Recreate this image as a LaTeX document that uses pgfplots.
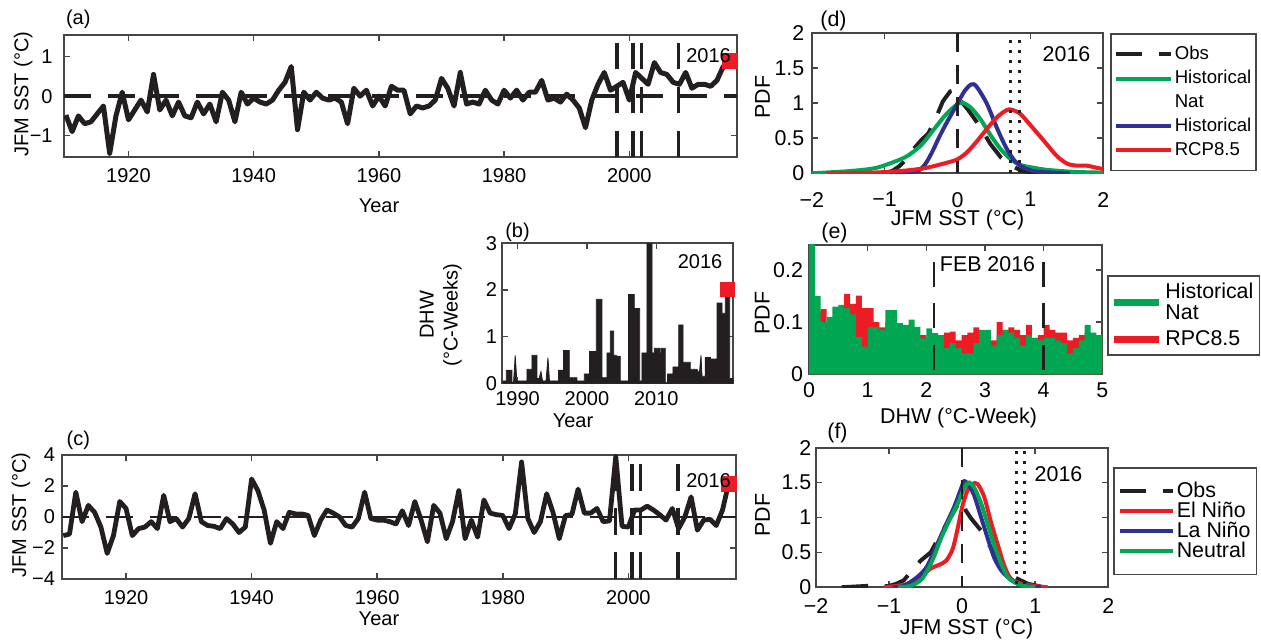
\documentclass[border=0pt]{standalone}
\usepackage{fontspec}
\setmainfont{Liberation Sans}
\usepackage{pgfplots}
\pgfplotsset{compat=1.18}

\definecolor{sred}{RGB}{237,28,36}
\definecolor{sgreen}{RGB}{0,166,81}
\definecolor{sblue}{RGB}{46,49,146}
\definecolor{sblack}{RGB}{35,31,32}
\definecolor{frame}{RGB}{70,70,72}

\pgfplotsset{
  panel/.style={
    scale only axis, anchor=south west,
    tick align=inside, tick pos=both, major tick length=3pt,
    axis line style={draw=frame, line width=0.9pt},
    tick style={frame, line width=0.8pt},
    tick label style={inner sep=0pt},
    /pgf/number format/assume math mode=true,
    /pgf/number format/1000 sep={},
    xlabel style={anchor=center, inner sep=0pt}, ylabel style={anchor=center, inner sep=0pt},
    legend cell align=left,
  },
  leftfont/.style={font=\fontsize{10}{12}\selectfont},
  rightfont/.style={font=\fontsize{10.7}{12.5}\selectfont},
  evline/.style={sblack, line width=1.7pt, dash pattern=on 13.3pt off 8.7pt},
  dotline/.style={sblack, line width=1.35pt, dash pattern=on 1.35pt off 3.65pt},
  zline/.style={sblack, line width=1.3pt, dash pattern=on 9.5pt off 6.5pt},
}

% JFM SST anomaly, panel (a)
\pgfplotstableread{
year sst
1910 -0.48
1911 -0.9
1912 -0.5
1913 -0.7
1914 -0.65
1915 -0.45
1916 -0.25
1917 -1.45
1918 -0.5
1919 0.1
1920 -0.6
1921 -0.35
1922 -0.1
1923 -0.4
1924 0.55
1925 -0.35
1926 -0.1
1927 -0.5
1928 -0.15
1929 -0.5
1930 -0.55
1931 -0.15
1932 -0.45
1933 -0.2
1934 -0.65
1935 0.1
1936 -0.1
1937 -0.65
1938 0.1
1939 -0.2
1940 -0.05
1941 -0.15
1942 -0.2
1943 -0.1
1944 0.15
1945 0.35
1946 0.75
1947 -0.85
1948 0.1
1949 -0.1
1950 0.1
1951 -0.05
1952 -0.1
1953 -0.05
1954 -0.15
1955 -0.7
1956 0.2
1957 0
1958 0.15
1959 -0.25
1960 0
1961 -0.25
1962 0.25
1963 0.15
1964 0.15
1965 -0.45
1966 -0.25
1967 -0.3
1968 -0.25
1969 -0.1
1970 0.45
1971 0.2
1972 -0.25
1973 0.6
1974 -0.2
1975 -0.15
1976 -0.2
1977 0.15
1978 -0.1
1979 -0.2
1980 0.15
1981 -0.05
1982 0.15
1983 -0.1
1984 0.1
1985 0.1
1986 0.4
1987 -0.1
1988 -0.05
1989 -0.15
1990 0.05
1991 -0.1
1992 -0.3
1993 -0.8
1994 -0.1
1995 0.3
1996 0.6
1997 0.15
1998 0.25
1999 0.35
2000 -0.1
2001 0.6
2002 0.45
2003 0.3
2004 0.85
2005 0.6
2006 0.55
2007 0.35
2008 0.3
2009 0.6
2010 0.2
2011 0.3
2012 0.3
2013 0.25
2014 0.4
2015 0.75
2016 0.9
}\sstA

% JFM SST, panel (c)
\pgfplotstableread{
year sst
1910 -1.2
1911 -1.1
1912 1.6
1913 -0.3
1914 0.75
1915 0.3
1916 -0.65
1917 -2.35
1918 -1.2
1919 1.0
1920 0.55
1921 -1.2
1922 -0.75
1923 -0.65
1924 -0.3
1925 -0.75
1926 1.4
1927 -0.3
1928 -0.1
1929 -0.65
1930 -0.1
1931 1.5
1932 -0.3
1933 -0.55
1934 -0.6
1935 -0.75
1936 -0.1
1937 -0.45
1938 -1.0
1939 -0.65
1940 2.45
1941 1.7
1942 0.45
1943 -1.7
1944 -0.3
1945 -0.75
1946 0.3
1947 0.2
1948 0.2
1949 0.1
1950 -1.2
1951 -0.2
1952 0.45
1953 0.25
1954 0
1955 -0.55
1956 -0.65
1957 -0.1
1958 1.6
1959 -0.1
1960 -0.2
1961 -0.2
1962 -0.3
1963 -0.45
1964 0.4
1965 -0.55
1966 1.0
1967 -0.2
1968 -1.6
1969 0.75
1970 0.25
1971 -1.4
1972 -0.3
1973 1.7
1974 -1.4
1975 -0.2
1976 -1.3
1977 1.1
1978 0.25
1979 0.15
1980 0.1
1981 -0.75
1982 0.2
1983 3.55
1984 -0.1
1985 -1.0
1986 -0.3
1987 1.5
1988 0.3
1989 -1.4
1990 0.1
1991 0.15
1992 1.8
1993 0.25
1994 0.25
1995 0.55
1996 -0.3
1997 -0.25
1998 3.9
1999 -0.6
2000 -0.65
2001 0.45
2002 0.45
2003 0.7
2004 0.45
2005 0.15
2006 -0.2
2007 0.55
2008 -0.75
2009 0
2010 1.3
2011 -0.85
2012 -0.2
2013 -0.15
2014 -0.55
2015 0.45
2016 2.2
}\sstC

% DHW histograms, panel (e): left bin edge, PDF
\pgfplotstableread{
x nat rcp
0.0 0.27 0.20
0.1 0.15 0.12
0.2 0.10 0.125
0.3 0.11 0.10
0.4 0.13 0.11
0.5 0.133 0.12
0.6 0.127 0.154
0.7 0.115 0.135
0.8 0.072 0.151
0.9 0.053 0.127
1.0 0.09 0.127
1.1 0.09 0.10
1.2 0.085 0.09
1.3 0.123 0.10
1.4 0.123 0.09
1.5 0.098 0.08
1.6 0.095 0.09
1.7 0.105 0.08
1.8 0.091 0.075
1.9 0.069 0.075
2.0 0.088 0.07
2.1 0.079 0.075
2.2 0.075 0.075
2.3 0.05 0.08
2.4 0.06 0.082
2.5 0.05 0.065
2.6 0.04 0.075
2.7 0.04 0.08
2.8 0.06 0.09
2.9 0.085 0.07
3.0 0.085 0.065
3.1 0.055 0.065
3.2 0.075 0.10
3.3 0.085 0.085
3.4 0.08 0.09
3.5 0.07 0.085
3.6 0.055 0.075
3.7 0.075 0.095
3.8 0.07 0.07
3.9 0.065 0.075
4.0 0.07 0.095
4.1 0.07 0.085
4.2 0.065 0.08
4.3 0.06 0.08
4.4 0.04 0.065
4.5 0.05 0.07
4.6 0.065 0.075
4.7 0.095 0.08
4.8 0.08 0.07
4.9 0.075 0.07
5.0 0.075 0.07
}\dhwhist

\begin{document}
\begin{tikzpicture}
\useasboundingbox (0,0) rectangle (630.5pt,321pt);

% ---------------- (a)
\begin{axis}[panel, leftfont, at={(32pt,242.35pt)}, width=336.5pt, height=61.15pt,
  xmin=1909.7, xmax=2017.2, ymin=-1.55, ymax=1.55,
  xtick={1920,1940,1960,1980,2000}, ytick={-1,0,1}, yticklabels={−1,0,1},
  xticklabel style={yshift=-5.5pt}, yticklabel style={xshift=-5.5pt},
  xlabel={Year}, xlabel style={at={(axis description cs:0.468,-0.398)}},
  ylabel={JFM SST (°C)}, ylabel style={at={(axis description cs:-0.0605,0.518)}},
]
\addplot[evline] coordinates {(1909.7,0) (2017.2,0)};
\addplot[evline] coordinates {(1998,-1.55) (1998,1.55)};
\addplot[evline] coordinates {(2000.6,-1.55) (2000.6,1.55)};
\addplot[evline] coordinates {(2001.9,-1.55) (2001.9,1.55)};
\addplot[evline] coordinates {(2007.9,-1.55) (2007.9,1.55)};
\addplot[sblack, line width=2.5pt, line join=round] table[x=year, y=sst] {\sstA};
\addplot[only marks, mark=square*, mark size=3.7pt, sred] coordinates {(2016,0.9)};
\end{axis}

% ---------------- (b)
\begin{axis}[panel, leftfont, at={(251.15pt,129.35pt)}, width=115.5pt, height=70pt,
  xmin=1987.8, xmax=2021.1, ymin=0, ymax=3,
  xtick={1990,2000,2010}, ytick={0,1,2,3},
  xticklabel style={yshift=-4pt}, yticklabel style={xshift=-2.5pt},
  xlabel={Year}, xlabel style={at={(axis description cs:0.306,-0.269)}},
  ylabel={DHW\\(°C-Weeks)}, ylabel style={align=center, at={(axis description cs:-0.266,0.488)}},
]
\addplot[fill=sblack, draw=sblack, line width=0.4pt] coordinates {
(1987.9,0) (1987.9,0.05) (1988.37,0.05) (1988.37,0.28) (1989.18,0.28) (1989.18,0.02)
(1989.42,0.02) (1989.66,0.6) (1989.9,0.05) (1991.35,0.05) (1991.35,0.3) (1992.07,0.3)
(1992.07,0.6) (1992.79,0.6) (1992.79,0.1) (1993.1,0.1) (1993.37,0.25) (1993.6,0.05)
(1994.1,0.05) (1994.38,0.55) (1994.6,0.05) (1995.91,0.05) (1995.91,0.28) (1996.63,0.28)
(1996.63,0.7) (1997.45,0.7) (1997.45,0.12) (1998.56,0.12) (1998.56,0.05) (1999.62,0.05)
(1999.62,0.2) (2000.38,0.2) (2000.38,0.68) (2001.35,0.68) (2001.35,1.8) (2002.16,1.8)
(2002.16,0.12) (2002.88,0.12) (2002.88,0.65) (2003.37,0.65) (2003.37,1.12) (2003.85,1.12)
(2003.85,0.6) (2004.23,0.6) (2004.23,0.58) (2004.81,0.58) (2004.81,0.05) (2006.0,0.05)
(2006.0,1.9) (2006.83,1.9) (2006.83,1.6) (2007.6,1.6) (2007.6,0.05) (2007.93,0.05)
(2007.93,0.65) (2008.65,0.65) (2008.65,3.0) (2009.38,3.0) (2009.38,0.65) (2009.71,0.65)
(2009.71,0.75) (2010.48,0.75) (2010.48,0.65) (2010.67,0.65) (2010.67,0.75) (2011.3,0.75)
(2011.3,0.0) (2011.63,0.0) (2011.63,0.2) (2012.4,0.2) (2012.4,0.35) (2013.22,0.35)
(2013.22,1.25) (2013.85,1.25) (2013.85,0.45) (2014.9,0.45) (2014.9,0.3) (2015.87,0.3)
(2016.2,0.2) (2016.44,0.6) (2016.59,0.15) (2017.07,0.15) (2017.07,0.55) (2017.79,0.55)
(2017.79,0.52) (2018.75,0.52) (2018.75,1.72) (2019.47,1.72) (2019.47,1.5) (2019.95,1.5)
(2019.95,1.9) (2020.58,1.9) (2020.58,0.1) (2021.1,0.1) (2021.1,0)} \closedcycle;
\addplot[only marks, mark=square*, mark size=3.5pt, sred] coordinates {(2020.2,2.02)};
\end{axis}

% ---------------- (c)
\begin{axis}[panel, leftfont, at={(31.15pt,31.5pt)}, width=336.85pt, height=62pt,
  xmin=1909.85, xmax=2017.15, ymin=-4, ymax=4,
  xtick={1920,1940,1960,1980,2000}, ytick={-4,-2,0,2,4}, yticklabels={−4,−2,0,2,4},
  xticklabel style={yshift=-5.5pt}, yticklabel style={xshift=-3.5pt},
  xlabel={Year}, xlabel style={at={(axis description cs:0.470,-0.323)}},
  ylabel={JFM SST (°C)}, ylabel style={at={(axis description cs:-0.0613,0.516)}},
]
\addplot[evline, line width=1.4pt] coordinates {(1909.85,0) (2017.15,0)};
\addplot[evline] coordinates {(1998,-4) (1998,4)};
\addplot[evline] coordinates {(2000.6,-4) (2000.6,4)};
\addplot[evline] coordinates {(2001.9,-4) (2001.9,4)};
\addplot[evline] coordinates {(2007.9,-4) (2007.9,4)};
\addplot[sblack, line width=2.4pt, line join=round] table[x=year, y=sst] {\sstC};
\addplot[only marks, mark=square*, mark size=3.7pt, sred] coordinates {(2016,2.15)};
\end{axis}

% ---------------- (d)
\begin{axis}[panel, rightfont, at={(405.85pt,234.35pt)}, width=145.8pt, height=70pt,
  xmin=-2, xmax=2, ymin=0, ymax=2,
  xtick={-2,-1,0,1,2}, xticklabels={−2,−1,0,1,2}, ytick={0,0.5,1,1.5,2},
  xticklabel style={yshift=-9.2pt}, yticklabel style={xshift=-3.5pt},
  xlabel={JFM SST (°C)}, xlabel style={at={(axis description cs:0.5,-0.335)}},
  ylabel={PDF}, ylabel style={at={(axis description cs:-0.169,0.545)}},
  legend image code/.code={\draw[#1] (0pt,0pt) -- (27.5pt,0pt);},
  legend style={at={(1.023,1)}, anchor=north west, font=\fontsize{9.3}{11}\selectfont,
    draw=frame, line width=0.8pt, inner xsep=1.5pt, inner ysep=4pt,
    nodes={inner xsep=1pt, inner ysep=1.95pt}},
]
\addplot[sblack, line width=2pt, dash pattern=on 13.3pt off 8.3pt] coordinates {
(-1.05,0) (-0.9,0.03) (-0.8,0.1) (-0.7,0.2) (-0.6,0.35) (-0.5,0.47) (-0.4,0.57) (-0.3,0.78)
(-0.2,1.03) (-0.1,1.17) (-0.03,1.19) (0.05,1.03) (0.15,0.9) (0.3,0.68) (0.45,0.42)
(0.6,0.22) (0.75,0.1) (0.9,0.03) (1.05,0.01) (1.2,0)};
\addlegendentry{Obs}
\addplot[sgreen, line width=2pt, smooth] coordinates {
(-2,0) (-1.5,0.03) (-1.15,0.07) (-0.93,0.14) (-0.7,0.24) (-0.5,0.4) (-0.33,0.62)
(-0.15,0.85) (-0.01,0.98) (0.06,1.01) (0.17,0.95) (0.31,0.78) (0.45,0.55) (0.58,0.36)
(0.72,0.21) (0.86,0.12) (1.04,0.08) (1.22,0.05) (1.6,0.02) (2,0.01)};
\addlegendentry{Historical}
\addlegendimage{empty legend}
\addlegendentry{Nat}
\addplot[sblue, line width=2pt, smooth] coordinates {
(-0.85,0) (-0.56,0.03) (-0.45,0.12) (-0.35,0.3) (-0.25,0.52) (-0.15,0.72) (-0.01,0.98)
(0.1,1.18) (0.19,1.27) (0.26,1.24) (0.4,1.0) (0.54,0.65) (0.67,0.36) (0.8,0.16)
(0.95,0.06) (1.13,0.02) (1.54,0)};
\addlegendentry{Historical}
\addplot[sred, line width=2pt, smooth] coordinates {
(-1.8,0) (-1.15,0.01) (-0.7,0.04) (-0.42,0.08) (-0.15,0.15) (0,0.2) (0.13,0.3) (0.26,0.45)
(0.4,0.63) (0.54,0.8) (0.67,0.9) (0.74,0.91) (0.86,0.85) (0.99,0.7) (1.18,0.47)
(1.36,0.25) (1.5,0.14) (1.63,0.11) (1.77,0.11) (1.86,0.09) (2,0.06)};
\addlegendentry{RCP8.5}
\addplot[zline, forget plot] coordinates {(0,2) (0,0)};
\addplot[dotline, forget plot] coordinates {(0.73,1.9) (0.73,0)};
\addplot[dotline, forget plot] coordinates {(0.848,1.9) (0.848,0)};
\end{axis}

% ---------------- (e)
\begin{axis}[panel, rightfont, at={(404.5pt,133.85pt)}, width=146.65pt, height=64.65pt,
  xmin=0, xmax=5, ymin=0, ymax=0.248,
  xtick={0,1,2,3,4,5}, ytick={0,0.1,0.2},
  xticklabel style={yshift=-4pt}, yticklabel style={xshift=-2.85pt},
  xlabel={DHW (°C-Week)}, xlabel style={at={(axis description cs:0.51,-0.338)}},
  ylabel={PDF}, ylabel style={at={(axis description cs:-0.159,0.474)}},
  legend image code/.code={\draw[#1, line width=3.3pt] (0pt,0pt) -- (22.5pt,0pt);},
  legend style={at={(1.016,0.768)}, anchor=north west, font=\fontsize{10.7}{10.5}\selectfont,
    draw=frame, line width=0.8pt, inner sep=1.5pt,
    nodes={align=left, inner xsep=1.5pt, inner ysep=2pt}, row sep=0pt},
]
\addlegendimage{sgreen}
\addlegendentry{Historical\\Nat}
\addlegendimage{sred}
\addlegendentry{RPC8.5}
\addplot[const plot, fill=sred, draw=none, forget plot] table[x=x, y=rcp] {\dhwhist} \closedcycle;
\addplot[const plot, fill=sgreen, draw=none, forget plot] table[x=x, y=nat] {\dhwhist} \closedcycle;
\addplot[sblack, line width=1.3pt, dash pattern=on 12.5pt off 8.3pt, forget plot] coordinates {(2.13,0.216) (2.13,0)};
\addplot[sblack, line width=1.3pt, dash pattern=on 12.5pt off 8.3pt, forget plot] coordinates {(4.0,0.216) (4.0,0)};
\end{axis}

% ---------------- (f)
\begin{axis}[panel, rightfont, at={(408pt,27.35pt)}, width=146.15pt, height=69.8pt,
  xmin=-2, xmax=2, ymin=0, ymax=2,
  xtick={-2,-1,0,1,2}, xticklabels={−2,−1,0,1,2}, ytick={0,0.5,1,1.5,2},
  xticklabel style={yshift=-5.4pt}, yticklabel style={xshift=-2.15pt},
  xlabel={JFM SST (°C)}, xlabel style={at={(axis description cs:0.515,-0.3)}},
  ylabel={PDF}, ylabel style={at={(axis description cs:-0.183,0.518)}},
  legend image code/.code={\draw[#1] (0pt,0pt) -- (26.5pt,0pt);},
  legend style={at={(1.016,0.862)}, anchor=north west, font=\fontsize{10.7}{11}\selectfont,
    draw=frame, line width=0.8pt, inner xsep=2pt, inner ysep=6.5pt,
    nodes={inner xsep=1pt, inner ysep=0.42pt}},
]
\addplot[sblack, line width=2pt, dash pattern=on 13.3pt off 8.3pt] coordinates {
(-1.65,0) (-1.3,0.02) (-1.1,0.01) (-1.0,0.02) (-0.9,0.05) (-0.8,0.1) (-0.7,0.22)
(-0.57,0.38) (-0.43,0.5) (-0.3,0.75) (-0.16,1.0) (-0.05,1.2) (0.0,1.25) (0.05,1.1)
(0.12,0.99) (0.26,0.81) (0.44,0.48) (0.58,0.29) (0.72,0.14) (0.9,0.05) (1.08,0.01) (1.2,0)};
\addlegendentry{Obs}
\addplot[sred, line width=2pt, smooth] coordinates {
(-1.07,0) (-0.9,0.02) (-0.75,0.05) (-0.57,0.15) (-0.43,0.27) (-0.32,0.32) (-0.22,0.38)
(-0.13,0.55) (-0.06,0.85) (0.0,1.15) (0.07,1.38) (0.14,1.48) (0.21,1.48) (0.3,1.3)
(0.39,0.95) (0.49,0.6) (0.58,0.3) (0.67,0.12) (0.81,0.05) (0.99,0.02) (1.17,0)};
\addlegendentry{El Niño}
\addplot[sblue, line width=2pt, smooth] coordinates {
(-0.95,0) (-0.8,0.02) (-0.61,0.15) (-0.48,0.3) (-0.35,0.6) (-0.22,0.9) (-0.11,1.15)
(-0.02,1.4) (0.03,1.52) (0.1,1.45) (0.17,1.3) (0.26,1.0) (0.35,0.7) (0.44,0.42)
(0.53,0.25) (0.62,0.15) (0.76,0.05) (0.94,0.01) (1.08,0)};
\addlegendentry{La Niño}
\addplot[sgreen, line width=2pt, smooth] coordinates {
(-0.88,0) (-0.71,0.02) (-0.55,0.12) (-0.41,0.38) (-0.29,0.7) (-0.18,0.95) (-0.06,1.2)
(0.03,1.43) (0.1,1.5) (0.17,1.42) (0.26,1.2) (0.35,0.9) (0.44,0.6) (0.53,0.35)
(0.62,0.15) (0.72,0.07) (0.85,0.02) (1.0,0)};
\addlegendentry{Neutral}
\addplot[zline, forget plot] coordinates {(0,2) (0,0)};
\addplot[dotline, forget plot] coordinates {(0.739,1.95) (0.739,0)};
\addplot[dotline, forget plot] coordinates {(0.853,1.95) (0.853,0)};
\end{axis}

% panel letters and year notes
\begin{scope}[every node/.style={inner sep=0pt, font=\fontsize{10}{12}\selectfont}]
\node at (39.15pt,311.4pt) {(a)};
\node at (354.25pt,293.25pt) {2016};
\node at (258.75pt,204.75pt) {(b)};
\node at (350pt,190pt) {2016};
\node at (39.15pt,101pt) {(c)};
\node at (354.25pt,80.5pt) {2016};
\end{scope}
\begin{scope}[every node/.style={inner sep=0pt, font=\fontsize{10.7}{12.5}\selectfont}]
\node at (416.75pt,310.75pt) {(d)};
\node at (533.25pt,293.75pt) {2016};
\node at (417.25pt,204.75pt) {(e)};
\node at (493.75pt,188.75pt) {FEB 2016};
\node at (418.75pt,104.75pt) {(f)};
\node at (529.25pt,83.75pt) {2016};
\end{scope}
\end{tikzpicture}
\end{document}
